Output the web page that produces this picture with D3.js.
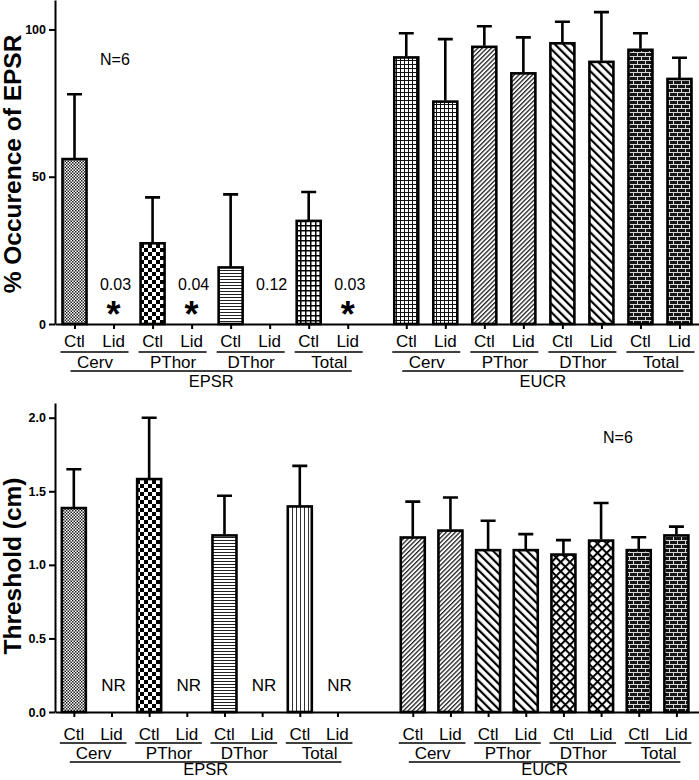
<!DOCTYPE html>
<html>
<head>
<meta charset="utf-8">
<script src="https://cdn.jsdelivr.net/npm/d3@7"></script>
<style>
  body { margin: 0; background: #fff; }
  text { font-family: "Liberation Sans", Arial, sans-serif; }
</style>
</head>
<body>
<svg id="root" width="699" height="780"></svg>
<script>
// ---- data ----
const categories = ["Cerv", "PThor", "DThor", "Total"];
const conditions = ["Ctl", "Lid"];
const responses = ["EPSR", "EUCR"];

// top: % occurrence (mean, upper error)
const occEPSR = [56, 0, 27.4, 0, 19.2, 0, 35, 0];
const occEPSRErr = [22, 0, 15.6, 0, 24.8, 0, 9.8, 0];
const occEUCR = [90.5, 75.5, 94.1, 85.1, 95.3, 89, 93.1, 83.2];
const occEUCRErr = [8.2, 21.2, 7, 12.2, 7.3, 16.9, 5.6, 7.2];
const pValues = ["0.03", "0.04", "0.12", "0.03"];
const pStar = [true, true, false, true];

// bottom: threshold (cm)
const thrEPSR = [1.386, null, 1.583, null, 1.20, null, 1.397, null];
const thrEPSRErr = [0.264, 0, 0.417, 0, 0.27, 0, 0.276, 0];
const thrEUCR = [1.186, 1.233, 1.10, 1.10, 1.07, 1.165, 1.10, 1.20];
const thrEUCRErr = [0.244, 0.225, 0.20, 0.109, 0.098, 0.255, 0.088, 0.06];

const occTicks = [0, 50, 100];
const thrTicks = [0, 0.5, 1.0, 1.5, 2.0];

// fill patterns per category
const occPatEPSR = ["fineChecker", "checker", "hlines", "grid"];
const occPatEUCR = ["fineGrid", "fineDiag", "diagBack", "brick"];
const thrPatEPSR = ["fineChecker", "checker", "hlines", "vlines"];
const thrPatEUCR = ["fineDiag", "diagBack", "cross", "brick"];

let svg = d3.select("#root");
let defs = svg.append("defs");

function pattern(id, w, h, transform) {
  let p = defs.append("pattern").attr("id", id)
    .attr("patternUnits", "userSpaceOnUse")
    .attr("width", w).attr("height", h);
  if (transform) p.attr("patternTransform", transform);
  p.append("rect").attr("width", w).attr("height", h).attr("fill", "#fff");
  return p;
}

let p;
p = pattern("fineChecker", 3, 3);
p.append("rect").attr("width", 1.5).attr("height", 1.5).attr("fill", "#222");
p.append("rect").attr("x", 1.5).attr("y", 1.5).attr("width", 1.5).attr("height", 1.5).attr("fill", "#222");

p = pattern("checker", 8, 8);
p.append("rect").attr("width", 4).attr("height", 4).attr("fill", "#000");
p.append("rect").attr("x", 4).attr("y", 4).attr("width", 4).attr("height", 4).attr("fill", "#000");

p = pattern("hlines", 3, 3);
p.append("rect").attr("width", 3).attr("height", 1).attr("fill", "#222");

p = pattern("vlines", 4, 4);
p.append("rect").attr("width", 1).attr("height", 4).attr("fill", "#333");

p = pattern("grid", 5, 5);
p.append("rect").attr("width", 5).attr("height", 1.5).attr("fill", "#000");
p.append("rect").attr("width", 1.5).attr("height", 5).attr("fill", "#000");

p = pattern("fineGrid", 4, 4);
p.append("rect").attr("width", 4).attr("height", 1).attr("fill", "#111");
p.append("rect").attr("width", 1).attr("height", 4).attr("fill", "#111");

p = pattern("fineDiag", 3.2, 3.2, "rotate(45)");
p.append("rect").attr("width", 1.3).attr("height", 3.2).attr("fill", "#222");

p = pattern("diagBack", 6, 6, "rotate(-45)");
p.append("rect").attr("width", 2.2).attr("height", 6).attr("fill", "#000");

p = pattern("cross", 6.5, 6.5, "rotate(45)");
p.append("rect").attr("width", 2).attr("height", 6.5).attr("fill", "#000");
p.append("rect").attr("width", 6.5).attr("height", 2).attr("fill", "#000");

p = defs.append("pattern").attr("id", "brick").attr("patternUnits", "userSpaceOnUse")
  .attr("width", 8).attr("height", 8);
p.append("rect").attr("width", 8).attr("height", 8).attr("fill", "#161616");
p.append("rect").attr("width", 8).attr("height", 1).attr("fill", "#d8d8d8");
p.append("rect").attr("y", 4).attr("width", 8).attr("height", 1).attr("fill", "#d8d8d8");
p.append("rect").attr("x", 1).attr("width", 1).attr("height", 4).attr("fill", "#d8d8d8");
p.append("rect").attr("x", 5).attr("y", 4).attr("width", 1).attr("height", 4).attr("fill", "#d8d8d8");

const left = 55, right = 699;

function panel(cfg) {
  let g = svg.append("g");
  let y = d3.scaleLinear().domain(cfg.yDomain).range([cfg.y0, cfg.yTop]);
  let x = d3.scaleLinear().domain(cfg.xDomain).range([left, right]);

  // y axis
  g.append("g")
    .attr("transform", `translate(${left},0)`)
    .call(d3.axisLeft(y).tickValues(cfg.ticks).tickFormat(cfg.fmt).tickSize(6).tickSizeOuter(0))
    .call(a => a.select(".domain").attr("stroke-width", 2))
    .call(a => a.selectAll(".tick line").attr("stroke-width", 2))
    .call(a => a.selectAll(".tick text").attr("x", -9)
      .style("font-family", '"Liberation Sans", Arial, sans-serif')
      .style("font-size", "12.5px").style("font-weight", "bold").attr("fill", "#000"));

  // build rows
  let rows = [];
  responses.forEach((resp, r) => {
    categories.forEach((cat, c) => {
      conditions.forEach((cond, k) => {
        let i = c * 2 + k;
        rows.push({
          resp, cat, cond,
          slot: r * cfg.offset + i,
          value: cfg.values[r][i],
          err: cfg.errs[r][i],
          pat: cfg.pats[r][c]
        });
      });
    });
  });

  // x axis
  g.append("g")
    .attr("transform", `translate(0,${cfg.y0})`)
    .call(d3.axisBottom(x).tickValues(rows.map(d => d.slot)).tickFormat(() => "").tickSize(5).tickSizeOuter(0))
    .call(a => a.select(".domain").attr("stroke-width", 2))
    .call(a => a.selectAll(".tick line").attr("stroke-width", 2));

  let bars = rows.filter(d => d.value);
  let bw = 24;

  g.selectAll(".bar").data(bars).enter().append("rect")
    .attr("class", "bar")
    .attr("x", d => x(d.slot) - bw / 2)
    .attr("width", bw)
    .attr("y", d => y(d.value))
    .attr("height", d => y(0) - y(d.value))
    .attr("fill", d => `url(#${d.pat})`)
    .attr("stroke", "#000").attr("stroke-width", 2.6);

  g.selectAll(".err").data(bars).enter().append("path")
    .attr("class", "err")
    .attr("d", d => {
      let cx = x(d.slot), yt = y(d.value + d.err);
      return `M${cx},${y(d.value) - 1}V${yt}M${cx - 7.5},${yt}H${cx + 7.5}`;
    })
    .attr("fill", "none").attr("stroke", "#000").attr("stroke-width", 2.6);

  // condition labels
  g.selectAll(".cond").data(rows).enter().append("text")
    .attr("x", d => x(d.slot)).attr("y", cfg.y0 + cfg.lab[0])
    .attr("text-anchor", "middle").style("font-size", "17px").text(d => d.cond);

  // category underline + label
  let groups = [];
  responses.forEach((resp, r) => categories.forEach((cat, c) => {
    groups.push({ resp, cat, s0: r * cfg.offset + c * 2, s1: r * cfg.offset + c * 2 + 1 });
  }));
  g.selectAll(".gline").data(groups).enter().append("line")
    .attr("x1", d => x(d.s0) - 14).attr("x2", d => x(d.s1) + 15)
    .attr("y1", cfg.y0 + cfg.lab[1]).attr("y2", cfg.y0 + cfg.lab[1])
    .attr("stroke", "#000").attr("stroke-width", 1.5);
  g.selectAll(".glab").data(groups).enter().append("text")
    .attr("x", d => (x(d.s0) + x(d.s1)) / 2 + 1).attr("y", cfg.y0 + cfg.lab[2])
    .attr("text-anchor", "middle").style("font-size", "17px").text(d => d.cat);

  // response underline + label
  let supers = responses.map((resp, r) => ({ resp, s0: r * cfg.offset, s1: r * cfg.offset + 7 }));
  g.selectAll(".sline").data(supers).enter().append("line")
    .attr("x1", d => x(d.s0) - 4).attr("x2", d => x(d.s1) + 4)
    .attr("y1", cfg.y0 + cfg.lab[3]).attr("y2", cfg.y0 + cfg.lab[3])
    .attr("stroke", "#000").attr("stroke-width", 1.5);
  g.selectAll(".slab").data(supers).enter().append("text")
    .attr("x", d => (x(d.s0) + x(d.s1)) / 2).attr("y", cfg.y0 + cfg.lab[4])
    .attr("text-anchor", "middle").style("font-size", "16.5px").text(d => d.resp);

  // y title
  g.append("text")
    .attr("transform", `translate(21,${cfg.titleY}) rotate(-90)`)
    .attr("text-anchor", "middle")
    .style("font-size", "24.5px").style("font-weight", "bold")
    .text(cfg.title);

  g.append("text").attr("x", cfg.nPos[0]).attr("y", cfg.nPos[1])
    .style("font-size", "16px").text("N=6");

  return { g, x, y, rows };
}

// top panel
let topPanel = panel({
  yDomain: [0, 110], y0: 324, yTop: 0,
  xDomain: [-0.5, 16], offset: 8.5,
  ticks: occTicks, fmt: d3.format("d"),
  values: [occEPSR, occEUCR], errs: [occEPSRErr, occEUCRErr],
  pats: [occPatEPSR, occPatEUCR],
  lab: [23, 28, 44, 47, 63],
  title: "% Occurence of EPSR", titleY: 164,
  nPos: [100, 65]
});

let lidRows = topPanel.rows.filter(d => d.resp === "EPSR" && d.cond === "Lid");
topPanel.g.selectAll(".pval").data(lidRows).enter().append("text")
  .attr("x", d => topPanel.x(d.slot) + 2).attr("y", 290)
  .attr("text-anchor", "middle").style("font-size", "16px")
  .text((d, i) => pValues[i]);
topPanel.g.selectAll(".star").data(lidRows.filter((d, i) => pStar[i])).enter().append("text")
  .attr("x", d => topPanel.x(d.slot)).attr("y", 327)
  .attr("text-anchor", "middle").style("font-size", "36px").style("font-weight", "bold")
  .text("*");

// bottom panel
let bottomPanel = panel({
  yDomain: [0, 2.1], y0: 712, yTop: 403,
  xDomain: [-0.5, 16.6], offset: 9,
  ticks: thrTicks, fmt: d3.format(".1f"),
  values: [thrEPSR, thrEUCR], errs: [thrEPSRErr, thrEUCRErr],
  pats: [thrPatEPSR, thrPatEUCR],
  lab: [28, 31, 47, 50, 63],
  title: "Threshold (cm)", titleY: 566,
  nPos: [603, 443]
});

bottomPanel.g.selectAll(".nr").data(bottomPanel.rows.filter(d => d.value === null)).enter().append("text")
  .attr("x", d => bottomPanel.x(d.slot) + 2).attr("y", 691)
  .attr("text-anchor", "middle").style("font-size", "17px").text("NR");
</script>
</body>
</html>
